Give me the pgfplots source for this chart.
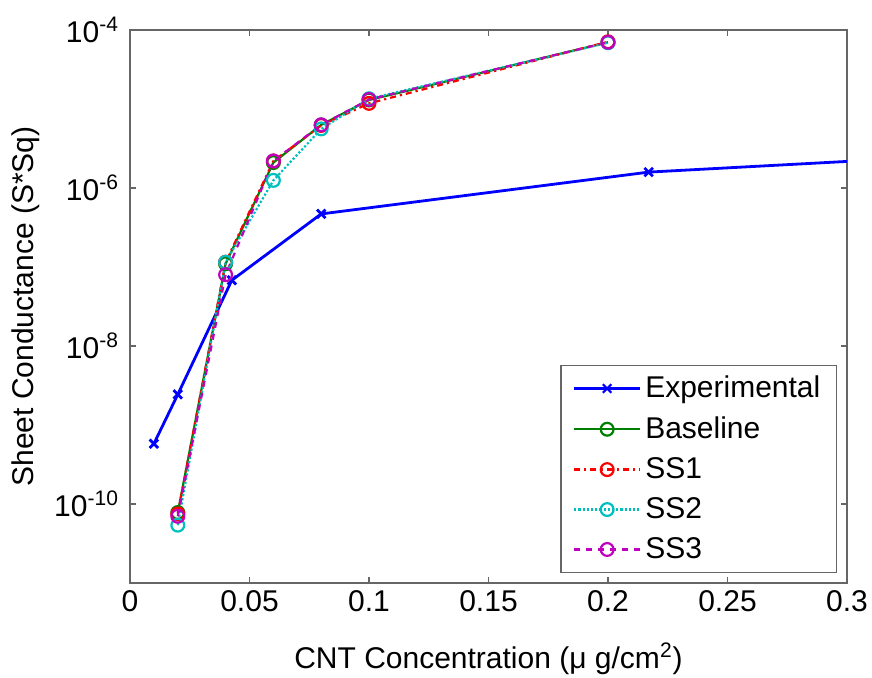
\documentclass[border=0pt]{standalone}
\usepackage{fontspec}
\setmainfont{Liberation Sans}
\usepackage{pgfplots}
\pgfplotsset{compat=1.18}

\definecolor{mblue}{rgb}{0,0,1}
\definecolor{mgreen}{rgb}{0,0.5,0}
\definecolor{mred}{rgb}{1,0,0}
\definecolor{mcyan}{rgb}{0,0.75,0.75}
\definecolor{mmag}{rgb}{0.75,0,0.75}
\definecolor{axgray}{rgb}{0.4,0.4,0.4}

\newcommand{\bigfont}{\fontsize{15}{18}\selectfont}

\begin{document}
\begin{tikzpicture}
\begin{axis}[
  scale only axis,
  width=358.5pt, height=276.5pt,
  xmin=0, xmax=0.3,
  ymode=log, ymin=1e-11, ymax=1e-4,
  xtick={0,0.05,0.1,0.15,0.2,0.25,0.3},
  xticklabels={0,0.05,0.1,0.15,0.2,0.25,0.3},
  ytick={1e-10,1e-8,1e-6,1e-4},
  yticklabels={10\textsuperscript{-10},10\textsuperscript{-8},10\textsuperscript{-6},10\textsuperscript{-4}},
  minor ytick={},
  tick align=inside,
  major tick length=3pt,
  axis line style={axgray, line width=0.6pt},
  tick style={axgray, line width=0.6pt},
  tick label style={font=\bigfont},
  yticklabel style={xshift=-2pt},
  label style={font=\bigfont},
  xlabel={CNT Concentration (μ g/cm\textsuperscript{2})},
  ylabel={Sheet Conductance (S*Sq)},
  xlabel style={yshift=-9pt},
  ylabel style={yshift=0.5pt},
  clip=true,
  legend cell align=left,
  legend style={
    at={(0.986,0.018)}, anchor=south east,
    font=\bigfont, draw=axgray, line width=0.6pt,
    row sep=4pt, inner xsep=6pt, inner ysep=3.5pt
  },
  legend image post style={line width=1.1pt},
  legend image code/.code={
    \draw[mark repeat=2,mark phase=2] plot coordinates {(0cm,0cm) (0.58cm,0cm) (1.16cm,0cm)};
  },
]
\addplot[mblue, line width=1.4pt, mark=x, mark size=3pt] coordinates {
  (0.01,5.8e-10) (0.02,2.44e-9) (0.0426,6.8e-8) (0.08,4.7e-7) (0.217,1.59e-6) (0.4,3.16e-6)
};
\addlegendentry{Experimental}
\addplot[mgreen, line width=1.1pt, mark=o, mark size=3.2pt, mark options={solid}] coordinates {
  (0.02,7.8e-11) (0.04,1.1e-7) (0.06,2.1e-6) (0.08,6.3e-6) (0.1,1.3e-5) (0.2,7.0e-5)
};
\addlegendentry{Baseline}
\addplot[mred, line width=1.1pt, dash dot, mark=o, mark size=3.2pt, mark options={solid}] coordinates {
  (0.02,7.5e-11) (0.04,1.15e-7) (0.06,2.2e-6) (0.08,6.2e-6) (0.1,1.18e-5) (0.2,7.1e-5)
};
\addlegendentry{SS1}
\addplot[mcyan, line width=1.1pt, densely dotted, mark=o, mark size=3.2pt, mark options={solid}] coordinates {
  (0.02,5.4e-11) (0.04,1.15e-7) (0.06,1.25e-6) (0.08,5.6e-6) (0.1,1.35e-5) (0.2,6.9e-5)
};
\addlegendentry{SS2}
\addplot[mmag, line width=1.1pt, dashed, mark=o, mark size=3.2pt, mark options={solid}] coordinates {
  (0.02,7.0e-11) (0.04,8.0e-8) (0.06,2.2e-6) (0.08,6.3e-6) (0.1,1.32e-5) (0.2,7.0e-5)
};
\addlegendentry{SS3}
\end{axis}
\pgfresetboundingbox
\path (current axis.south west) ++(-65pt,-47pt) rectangle ++(436pt,338.5pt);
\end{tikzpicture}
\end{document}
